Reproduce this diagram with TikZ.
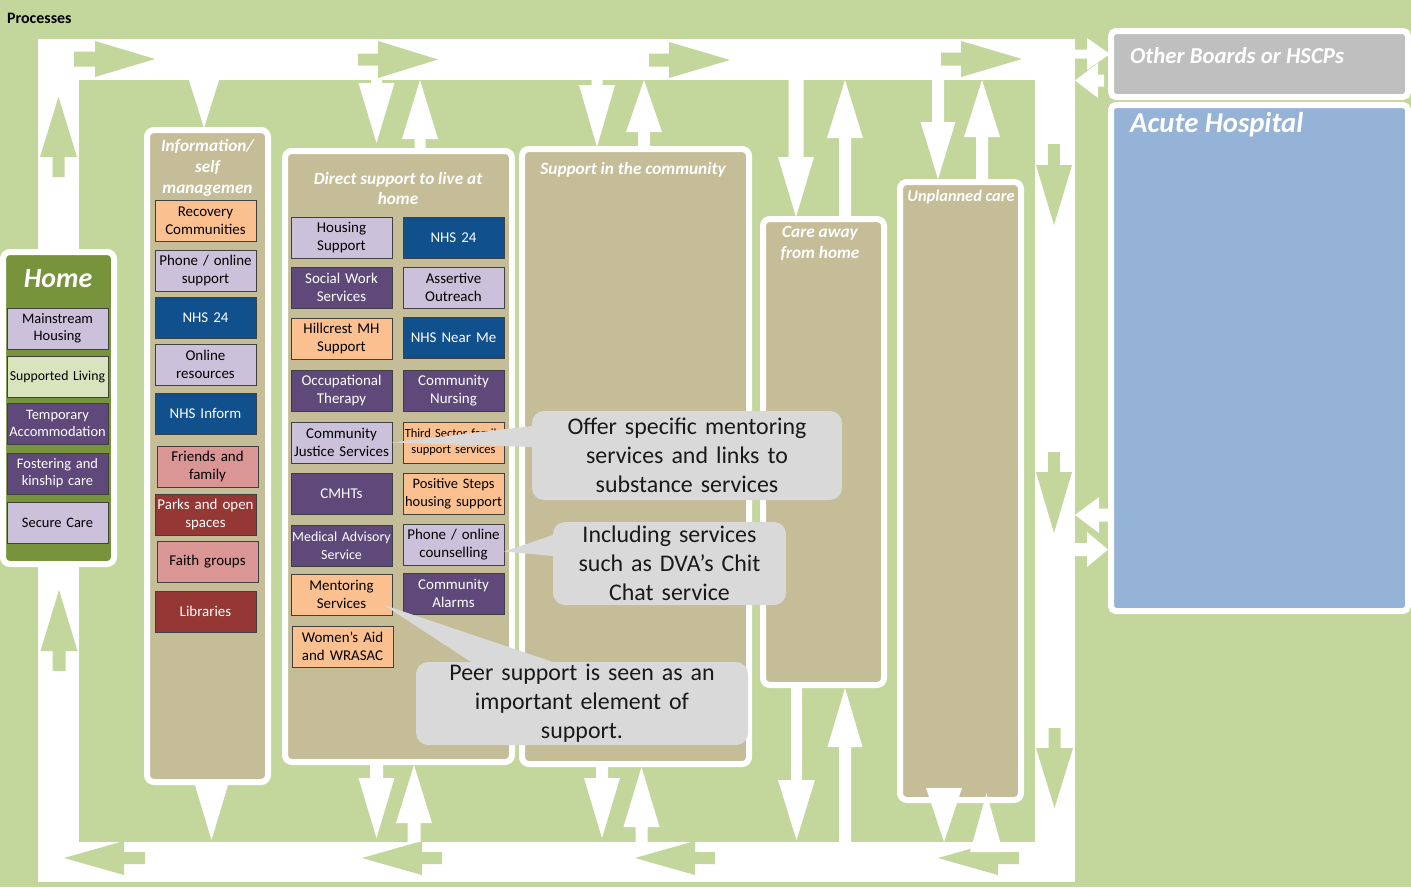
\documentclass[tikz,border=0pt]{standalone}
\usepackage{fontspec}
\setmainfont{Carlito}
\usetikzlibrary{calc}
\definecolor{procgreen}{HTML}{C3D69B}
\definecolor{colfill}{HTML}{C4BD97}
\definecolor{homegreen}{HTML}{77933C}
\definecolor{lavbox}{HTML}{CCC1DA}
\definecolor{navybox}{HTML}{10508C}
\definecolor{plumbox}{HTML}{5F497A}
\definecolor{peachbox}{HTML}{FAC090}
\definecolor{rosebox}{HTML}{D99694}
\definecolor{winebox}{HTML}{953735}
\definecolor{sagebox}{HTML}{D7E4BD}
\definecolor{boardgray}{HTML}{BFBFBF}
\definecolor{acuteblue}{HTML}{95B3D7}
\definecolor{notegray}{HTML}{D9D9D9}
% block arrows: [colour]{x or y}{tail}{head base}{tip}{half shaft}{half head}
\newcommand{\vflow}[7][white]{\fill[#1] (#2-#6,#3) -- (#2-#6,#4) -- (#2-#7,#4) -- (#2,#5) -- (#2+#7,#4) -- (#2+#6,#4) -- (#2+#6,#3) -- cycle;}
\newcommand{\hflow}[7][white]{\fill[#1] (#3,#2-#6) -- (#4,#2-#6) -- (#4,#2-#7) -- (#5,#2) -- (#4,#2+#7) -- (#4,#2+#6) -- (#3,#2+#6) -- cycle;}

\begin{document}
\begin{tikzpicture}[x=1bp, y=-1bp,
  colbox/.style={draw=white, line width=6bp, fill=colfill, rounded corners=7bp, anchor=north west, inner sep=0pt, outer sep=0pt},
  coltitle/.style={text=white, font=\fontsize{17.3}{21}\selectfont\bfseries\itshape, align=center, inner sep=0pt},
  svc/.style={draw=black!75, line width=1bp, anchor=north west, minimum width=101bp, minimum height=41bp, text width=99bp, inner sep=1bp, outer sep=0pt, align=center, font=\fontsize{15}{18}\selectfont},
  svclav/.style={svc, fill=lavbox},
  svcnavy/.style={svc, fill=navybox, text=white},
  svcplum/.style={svc, fill=plumbox, text=white},
  svcpeach/.style={svc, fill=peachbox},
  svcrose/.style={svc, fill=rosebox},
  svcwine/.style={svc, fill=winebox, text=white},
  svcsage/.style={svc, fill=sagebox},
  callbox/.style={fill=notegray, rounded corners=12bp, anchor=north west, inner sep=0pt, outer sep=0pt, align=center, font=\fontsize{24}{29}\selectfont, text=black!90}
]
  \useasboundingbox (0,0) rectangle (1411,887);
  \fill[procgreen] (0,0) rectangle (1411,887);
  \node[anchor=west, inner sep=0pt, font=\fontsize{16}{18}\selectfont\bfseries] (proc) at (7,18) {Processes};

  % outer loop
  \fill[white] (38,39) rectangle (1075,882);
  \fill[procgreen] (79,80) rectangle (1035,842);
  \hflow[procgreen]{59}{74}{95}{155}{7.5}{18}
  \hflow[procgreen]{59.5}{358}{378}{438}{6}{18.5}
  \hflow[procgreen]{60}{649}{669}{730}{6.5}{18}
  \hflow[procgreen]{59}{941}{961}{1022}{6.5}{18}
  \hflow[procgreen]{858}{145}{124}{64}{6}{17}
  \hflow[procgreen]{858}{442}{422}{362}{6}{17}
  \hflow[procgreen]{858}{715}{695}{635}{6}{17}
  \hflow[procgreen]{858}{1019}{998}{938}{6}{17}
  \vflow[procgreen]{58.5}{177}{157}{97}{6}{18.5}
  \vflow[procgreen]{59}{671}{651}{590}{6.5}{18.5}
  \vflow[procgreen]{1054}{144}{165}{225}{6}{18}
  \vflow[procgreen]{1054}{452}{472}{533}{6}{18}
  \vflow[procgreen]{1054.5}{728}{748}{808}{6}{18.5}

  \node[colbox, minimum width=121bp, minimum height=652bp] (info) at (147,130) {};
  \node[colbox, minimum width=227bp, minimum height=611bp] (direct) at (285,151) {};
  \node[colbox, minimum width=227bp, minimum height=615bp] (comm) at (522,149) {};
  \node[colbox, minimum width=121bp, minimum height=466bp] (away) at (763,219) {};
  \node[colbox, minimum width=121bp, minimum height=618bp] (unpl) at (900,182) {};
  \node[colbox, fill=homegreen, minimum width=111bp, minimum height=312bp] (home) at (3,252) {};
  \node[colbox, fill=boardgray, rounded corners=5bp, minimum width=297bp, minimum height=66bp] (other) at (1111,31) {};
  \node[colbox, fill=acuteblue, rounded corners=5bp, minimum width=297bp, minimum height=506bp] (acute) at (1111,105) {};

  % flows in and out of the settings
  \vflow{204}{80}{80}{128}{0}{15}
  \vflow{376.5}{80}{83}{143}{5.5}{18}
  \vflow{420}{148}{139}{80}{5.5}{18}
  \vflow{597}{80}{85}{147}{5.5}{18}
  \vflow{644}{146}{132}{80}{6}{18}
  \vflow{796}{80}{157}{217}{7.5}{18}
  \vflow{845}{216}{138}{80}{6}{18}
  \vflow{938}{80}{122}{179}{6}{17.5}
  \vflow{982}{180}{137}{80}{6}{18}
  \vflow{211.5}{785}{785}{840}{0}{16.5}
  \vflow{376.5}{765}{778}{838}{6.5}{18}
  \vflow{414}{842}{823}{765}{6.5}{18}
  \vflow{602}{767}{778}{838}{6}{18}
  \vflow{641.5}{842}{827}{767}{6}{18}
  \vflow{796.5}{687}{780}{840}{5.5}{18.5}
  \vflow{845}{842}{747}{688}{6}{17.5}
  \vflow{944}{788}{788}{842}{0}{18}
  \vflow{986.5}{852}{852}{793}{0}{16.5}
  \hflow{54}{1075}{1087}{1110}{4.5}{16}
  \hflow{80.5}{1104}{1098}{1075}{6}{17.5}
  \hflow{515}{1108}{1099}{1075}{6.5}{18}
  \hflow{549.5}{1075}{1087}{1108}{6.5}{17.5}

  \node[coltitle, font=\fontsize{28}{32}\selectfont\bfseries\itshape] (hometitle) at (58,279) {Home};
  \node[coltitle] (infotitle) at (207.5,168) {Information/\\self\\managemen};
  \node[coltitle] (directtitle) at (398,188.5) {Direct support to live at\\home};
  \node[coltitle] (commtitle) at (633,170) {Support in the community};
  \node[coltitle] (awaytitle) at (820,243) {Care away\\from home};
  \node[coltitle, font=\fontsize{16.4}{20}\selectfont\bfseries\itshape] (unpltitle) at (961,197) {Unplanned care};
  \node[coltitle, anchor=west, font=\fontsize{22.9}{26}\selectfont\bfseries\itshape] (othertitle) at (1130,55.5) {Other Boards or HSCPs};
  \node[coltitle, anchor=west, font=\fontsize{28.8}{32}\selectfont\bfseries\itshape] (acutetitle) at (1130,125) {Acute Hospital};

  % home
  \node[svclav, font=\fontsize{14.5}{17}\selectfont] (mh) at (7,308) {Mainstream\\Housing};
  \node[svcsage, font=\fontsize{13.8}{17}\selectfont] (sl) at (7,356) {Supported Living};
  \node[svcplum, font=\fontsize{14.5}{17}\selectfont] (ta) at (7,403) {Temporary\\Accommodation};
  \node[svcplum, font=\fontsize{14.5}{17}\selectfont] (fk) at (7,453) {Fostering and\\kinship care};
  \node[svclav, font=\fontsize{14.5}{17}\selectfont] (sc) at (7,502) {Secure Care};

  % information / self management
  \node[svcpeach] (rec) at (155,200) {Recovery\\Communities};
  \node[svclav] (pho) at (155,250) {Phone / online\\support};
  \node[svcnavy] (nhs) at (155,297) {NHS 24};
  \node[svclav] (onl) at (155,344) {Online\\resources};
  \node[svcnavy] (inf) at (155,393) {NHS Inform};
  \node[svcrose] (fri) at (157,446) {Friends and\\family};
  \node[svcwine] (prk) at (155,494) {Parks and open\\spaces};
  \node[svcrose] (fth) at (157,541) {Faith groups};
  \node[svcwine] (lib) at (155,591) {Libraries};

  % direct support
  \node[svclav] (hs) at (291,217) {Housing\\Support};
  \node[svcnavy] (n24) at (403,217) {NHS 24};
  \node[svcplum] (sws) at (291,267) {Social Work\\Services};
  \node[svclav] (ao) at (403,267) {Assertive\\Outreach};
  \node[svcpeach] (hmh) at (291,318) {Hillcrest MH\\Support};
  \node[svcnavy] (nnm) at (403,317) {NHS Near Me};
  \node[svcplum] (ot) at (291,370) {Occupational\\Therapy};
  \node[svcplum] (cn) at (403,370) {Community\\Nursing};
  \node[svclav] (cjs) at (291,422) {Community\\Justice Services};
  \node[svcpeach, font=\fontsize{12.5}{16}\selectfont] (tsf) at (403,422) {Third Sector family\\support services};
  \node[svcplum] (cmh) at (291,473) {CMHTs};
  \node[svcpeach, font=\fontsize{14.5}{18}\selectfont] (ps) at (403,473) {Positive Steps\\housing support};
  \node[svcplum, font=\fontsize{14}{18}\selectfont] (mas) at (291,525) {Medical Advisory\\Service};
  \node[svclav] (pc) at (403,524) {Phone / online\\counselling};
  \node[svcpeach] (ms) at (291,574) {Mentoring\\Services};
  \node[svcplum] (ca) at (403,573) {Community\\Alarms};
  \node[svcpeach] (wa) at (292,626) {Women’s Aid\\and WRASAC};

  % callouts
  \node[callbox, minimum width=310bp, minimum height=89bp, text width=300bp] (c1) at (532,411) {Offer specific mentoring\\services and links to\\substance services};
  \fill[notegray] ($(c1.north west)+(0,15)$) -- (cjs.east) -- ($(c1.north west)+(0,36)$) -- cycle;
  \node[callbox, minimum width=233bp, minimum height=83bp, text width=225bp] (c2) at (553,522) {Including services\\such as DVA’s Chit\\Chat service};
  \fill[notegray] ($(c2.north west)+(0,13)$) -- ($(pc.east)+(0,7)$) -- ($(c2.north west)+(0,34)$) -- cycle;
  \node[callbox, minimum width=332bp, minimum height=83bp, text width=320bp] (c3) at (416,662) {Peer support is seen as an\\important element of\\support.};
  \fill[notegray] ($(c3.north west)+(55,0)$) -- ($(ms.south east)+(-8,-10)$) -- ($(c3.north west)+(137,0)$) -- cycle;
\end{tikzpicture}
\end{document}
